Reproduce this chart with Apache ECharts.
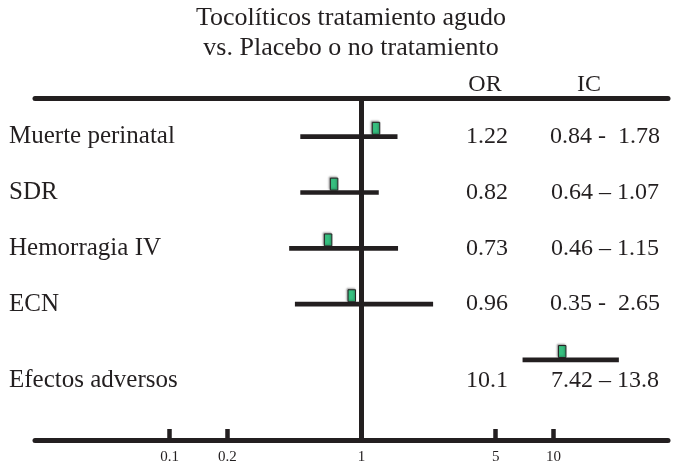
<!DOCTYPE html>
<html>
<head>
<meta charset="utf-8">
<script src="https://cdn.jsdelivr.net/npm/echarts@6.0.0/dist/echarts.min.js"></script>
<style>
  html, body { margin: 0; padding: 0; background: #ffffff; }
  #chart { width: 676px; height: 466px; }
</style>
</head>
<body>
<div id="chart"></div>
<script>
// ---- data ----
const categories = ['Muerte perinatal', 'SDR', 'Hemorragia IV', 'ECN', 'Efectos adversos'];
const orPoint = [1.19, 0.72, 0.67, 0.89, 11.1];   // square positions
const ciLow   = [0.48, 0.48, 0.42, 0.45, 6.9];     // left ends of bars
const ciHigh  = [1.54, 1.23, 1.55, 2.36, 21.9];    // right ends of bars
const orText  = ['1.22', '0.82', '0.73', '0.96', '10.1'];
const icText  = ['0.84 -  1.78', '0.64 \u2013 1.07', '0.46 \u2013 1.15', '0.35 -  2.65', '7.42 \u2013 13.8'];
const xTicks  = [0.1, 0.2, 1, 5, 10];
const refValue = 1;

// ---- layout ----
const W = 676, H = 466;
const gridLeft = 35, gridRightX = 668, gridTop = 98, gridBottomY = 440;
const onePx = 361.5, pxPerDecade = 192;
const xMin = Math.pow(10, (gridLeft - onePx) / pxPerDecade);
const xMax = Math.pow(10, (gridRightX - onePx) / pxPerDecade);
const rowUnit = 55.8, row0Px = 136.7;
const yMin = -(row0Px - gridTop) / rowUnit;
const yMax = (categories.length - 1) + (gridBottomY - (row0Px + rowUnit * (categories.length - 1))) / rowUnit;
const ink = '#231f20';
const serif = '"Liberation Serif", "Times New Roman", serif';
const orColX = 487, icColX = 605;
const belowOffset = 21;  // the last row's texts sit under its bar

const rows = categories.map((c, i) => [ciLow[i], i, ciHigh[i], orPoint[i]]);

const chart = echarts.init(document.getElementById('chart'), null, { renderer: 'canvas' });
chart.setOption({
  backgroundColor: '#ffffff',
  animation: false,
  title: {
    text: 'Tocolíticos tratamiento agudo\nvs. Placebo o no tratamiento',
    left: 351,
    textAlign: 'center',
    top: 3,
    padding: 0,
    textStyle: { fontFamily: serif, fontSize: 26, fontWeight: 'normal', color: ink, lineHeight: 30 }
  },
  grid: { left: gridLeft, right: W - gridRightX, top: gridTop, bottom: H - gridBottomY, containLabel: false },
  xAxis: [
    {
      type: 'log', position: 'bottom', min: xMin, max: xMax,
      axisLine: { show: true, onZero: false, lineStyle: { color: ink, width: 5 } },
      axisTick: { show: true, inside: true, length: 11, customValues: xTicks, lineStyle: { color: ink, width: 4.5 } },
      axisLabel: { show: true, customValues: xTicks, margin: 10, formatter: v => String(v),
                   fontFamily: serif, fontSize: 15, color: ink },
      splitLine: { show: false }, minorTick: { show: false }
    },
    {
      type: 'log', position: 'top', min: xMin, max: xMax,
      axisLine: { show: true, onZero: false, lineStyle: { color: ink, width: 5 } },
      axisTick: { show: false }, axisLabel: { show: false }, splitLine: { show: false }
    }
  ],
  yAxis: {
    type: 'value', inverse: true, min: yMin, max: yMax,
    axisLine: { show: false }, axisTick: { show: false }, splitLine: { show: false },
    axisLabel: {
      show: true, customValues: categories.map((c, i) => i), align: 'left', margin: gridLeft - 9,
      formatter: v => {
        const name = categories[Math.round(v)];
        return Math.round(v) === categories.length - 1 ? '{low|' + name + '}' : '{n|' + name + '}';
      },
      rich: {
        n: { fontFamily: serif, fontSize: 25, color: ink },
        low: { fontFamily: serif, fontSize: 25, color: ink, padding: [belowOffset * 2, 0, 0, 0] }
      }
    }
  },
  series: [
    {
      type: 'custom',
      xAxisIndex: 0,
      encode: { x: [0, 2, 3], y: 1 },
      data: rows,
      renderItem: function (params, api) {
        const y = api.value(1);
        const p0 = api.coord([api.value(0), y]);
        const p1 = api.coord([api.value(2), y]);
        const pc = api.coord([api.value(3), y]);
        const lw = 4.7, sw = 7.5, sh = 12;
        return {
          type: 'group',
          children: [
            { type: 'line', shape: { x1: p0[0], y1: p0[1], x2: p1[0], y2: p1[1] },
              style: { stroke: ink, lineWidth: lw } },
            { type: 'rect', shape: { x: pc[0] - sw / 2, y: pc[1] - lw / 2 - sh, width: sw, height: sh },
              style: { fill: '#36bf7f', stroke: ink, lineWidth: 1,
                       shadowColor: 'rgba(0,0,0,0.35)', shadowBlur: 2, shadowOffsetX: -1, shadowOffsetY: -1 } }
          ]
        };
      },
      markLine: {
        silent: true, symbol: 'none', animation: false,
        label: { show: false },
        lineStyle: { color: ink, width: 5, type: 'solid' },
        data: [{ xAxis: refValue }]
      },
      z: 3
    },
    {
      type: 'custom',
      xAxisIndex: 0,
      encode: { x: 0, y: 1 },
      data: rows,
      renderItem: function (params, api) {
        const i = api.value(1);
        let y = api.coord([refValue, i])[1];
        if (i === categories.length - 1) y += belowOffset;
        return {
          type: 'group',
          children: [
            { type: 'text', x: orColX, y: y,
              style: { text: orText[i], fontFamily: serif, fontSize: 24, fill: ink, align: 'center', verticalAlign: 'middle' } },
            { type: 'text', x: icColX, y: y,
              style: { text: icText[i], fontFamily: serif, fontSize: 24, fill: ink, align: 'center', verticalAlign: 'middle' } }
          ]
        };
      },
      z: 4
    }
  ],
  graphic: [
    { type: 'text', x: 485, y: 85, style: { text: 'OR', fontFamily: serif, fontSize: 24, fill: ink, align: 'center', verticalAlign: 'middle' } },
    { type: 'text', x: 589, y: 85, style: { text: 'IC', fontFamily: serif, fontSize: 24, fill: ink, align: 'center', verticalAlign: 'middle' } }
  ]
});
</script>
</body>
</html>
